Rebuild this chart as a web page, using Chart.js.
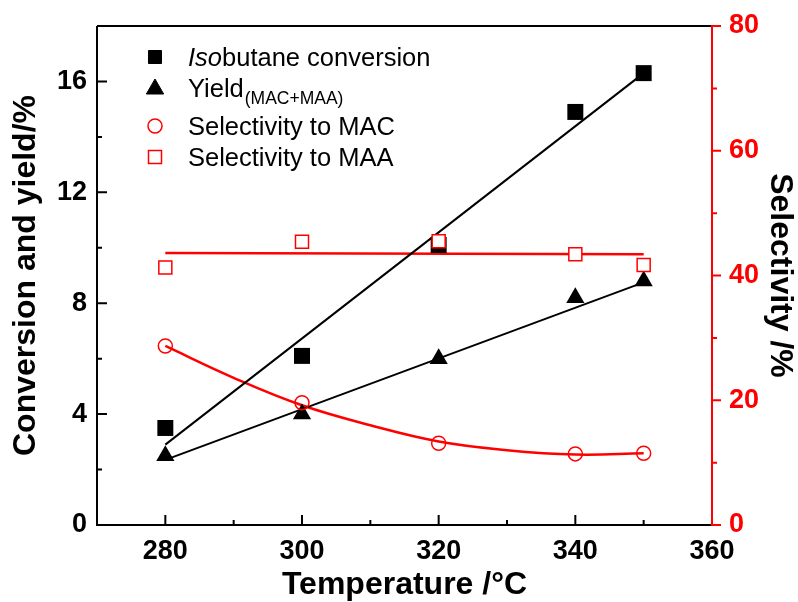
<!DOCTYPE html>
<html>
<head>
<meta charset="utf-8">
<script src="https://cdn.jsdelivr.net/npm/chart.js@4.4.1/dist/chart.umd.min.js"></script>
<style>
  html, body { margin: 0; padding: 0; background: #fff; }
  #wrap { width: 798px; height: 602px; position: relative; }
</style>
</head>
<body>
<div id="wrap"><canvas id="chart"></canvas></div>
<script>
// measured points
const temps = [280, 300, 320, 340, 350];
const conversion = [3.5, 6.1, 10.1, 14.9, 16.3];
const yieldMacMaa = [2.5, 4.0, 6.0, 8.2, 8.8];
const selMAC = [28.7, 19.6, 13.1, 11.4, 11.5];
const selMAA = [41.3, 45.4, 45.5, 43.4, 41.7];

// fitted lines
const fitTemps = [280, 350];
const convFit = [2.9, 16.3];
const yieldFit = [2.35, 8.75];
const maaFit = [43.6, 43.4];
const macFitTemps = [280, 290, 300, 310, 320, 330, 340, 350];
const macFit = [28.7, 23.6, 19.2, 16.0, 13.4, 12.0, 11.3, 11.5];

// axes
const xTicks = [280, 300, 320, 340, 360];
const xMinor = [290, 310, 330, 350];
const leftTicks = [0, 4, 8, 12, 16];
const leftMinor = [2, 6, 10, 14];
const rightTicks = [0, 20, 40, 60, 80];
const rightMinor = [10, 30, 50, 70];

const RED = '#ff0000';
const FONT = '"Liberation Sans", Arial, sans-serif';
Chart.defaults.font.family = FONT;

function pts(xs, ys) {
    return xs.map((x, i) => ({ x: x, y: ys[i] }));
}

// frame and inward/outward tick marks
const axesPlugin = {
    id: 'axesFrame',
    afterDraw(chart) {
        const ctx = chart.ctx;
        const a = chart.chartArea;
        const xs = chart.scales.x, yl = chart.scales.y, yr = chart.scales.y1;
        ctx.save();
        ctx.lineWidth = 2;
        ctx.strokeStyle = '#000';
        ctx.beginPath();
        ctx.moveTo(a.left, a.top); ctx.lineTo(a.right, a.top);
        ctx.moveTo(a.left, a.top); ctx.lineTo(a.left, a.bottom);
        ctx.moveTo(a.left - 1, a.bottom); ctx.lineTo(a.right, a.bottom);
        leftTicks.forEach(v => { const y = yl.getPixelForValue(v); ctx.moveTo(a.left, y); ctx.lineTo(a.left + 10, y); });
        leftMinor.forEach(v => { const y = yl.getPixelForValue(v); ctx.moveTo(a.left, y); ctx.lineTo(a.left + 5, y); });
        xTicks.forEach(v => { const x = xs.getPixelForValue(v); ctx.moveTo(x, a.bottom); ctx.lineTo(x, a.bottom - 10); });
        xMinor.forEach(v => { const x = xs.getPixelForValue(v); ctx.moveTo(x, a.bottom); ctx.lineTo(x, a.bottom - 5); });
        ctx.stroke();

        ctx.strokeStyle = RED;
        ctx.beginPath();
        ctx.moveTo(a.right, a.top - 1); ctx.lineTo(a.right, a.bottom + 1);
        rightTicks.forEach(v => { const y = yr.getPixelForValue(v); ctx.moveTo(a.right, y); ctx.lineTo(a.right + 9, y); });
        rightMinor.forEach(v => { const y = yr.getPixelForValue(v); ctx.moveTo(a.right, y); ctx.lineTo(a.right + 5, y); });
        ctx.stroke();
        ctx.restore();
    }
};

// legend with italic prefix and subscript
const legendPlugin = {
    id: 'customLegend',
    afterDraw(chart) {
        const ctx = chart.ctx;
        const mx = 155, tx = 188;
        const rows = [57, 88, 126, 157];
        const draw = Chart.helpers.drawPoint;
        ctx.save();

        ctx.fillStyle = '#000'; ctx.strokeStyle = '#000'; ctx.lineWidth = 1;
        draw(ctx, { pointStyle: 'rect', radius: 9.2, borderWidth: 1 }, mx, rows[0]);
        draw(ctx, { pointStyle: 'triangle', radius: 10, borderWidth: 1 }, mx, rows[1] + 1);
        ctx.fillStyle = 'rgba(0,0,0,0)'; ctx.strokeStyle = RED; ctx.lineWidth = 1.5;
        draw(ctx, { pointStyle: 'circle', radius: 7, borderWidth: 1.5 }, mx, rows[2]);
        ctx.fillStyle = '#fff';
        draw(ctx, { pointStyle: 'rect', radius: 9.2, borderWidth: 1.5 }, mx, rows[3]);

        ctx.fillStyle = '#000';
        ctx.textBaseline = 'alphabetic';
        ctx.textAlign = 'left';
        let x = tx;
        ctx.font = 'italic 25.5px ' + FONT;
        ctx.fillText('Iso', x, rows[0] + 9);
        x += ctx.measureText('Iso').width;
        ctx.font = '25.5px ' + FONT;
        ctx.fillText('butane conversion', x, rows[0] + 9);

        ctx.fillText('Yield', tx, rows[1] + 9);
        x = tx + ctx.measureText('Yield').width;
        ctx.font = '17.5px ' + FONT;
        ctx.fillText('(MAC+MAA)', x + 1, rows[1] + 16);

        ctx.font = '25.5px ' + FONT;
        ctx.fillText('Selectivity to MAC', tx, rows[2] + 9);
        ctx.fillText('Selectivity to MAA', tx, rows[3] + 9);
        ctx.restore();
    }
};

const tickFont = { size: 27, weight: 'bold' };
const titleFont = { size: 32, weight: 'bold', lineHeight: 1 };
const noGrid = { display: false, drawTicks: false };

// fixed box sizes so the plot area sits where the reference has it
function fixBox(w, h) {
    return s => {
        if (w !== null) s.width = w;
        if (h !== null) s.height = h;
        s.paddingTop = 0; s.paddingBottom = 0;
        s.paddingLeft = 0; s.paddingRight = 0;
    };
}

new Chart(document.getElementById('chart'), {
    type: 'scatter',
    data: {
        datasets: [
            {
                label: 'Selectivity to MAA', data: pts(temps, selMAA), yAxisID: 'y1', order: 0,
                pointStyle: 'rect', pointRadius: 9.2, pointBorderWidth: 1.5,
                borderColor: RED, backgroundColor: '#fff', showLine: false
            },
            {
                label: 'Selectivity to MAC', data: pts(temps, selMAC), yAxisID: 'y1', order: 1,
                pointStyle: 'circle', pointRadius: 7, pointBorderWidth: 1.5,
                borderColor: RED, backgroundColor: 'rgba(0,0,0,0)', showLine: false
            },
            {
                label: 'Isobutane conversion', data: pts(temps, conversion), yAxisID: 'y', order: 2,
                pointStyle: 'rect', pointRadius: 11.3, pointBorderWidth: 0,
                borderColor: '#000', backgroundColor: '#000', showLine: false
            },
            {
                label: 'Yield(MAC+MAA)', data: pts(temps, yieldMacMaa), yAxisID: 'y', order: 3,
                pointStyle: 'triangle', pointRadius: 10.5, pointBorderWidth: 0,
                borderColor: '#000', backgroundColor: '#000', showLine: false
            },
            {
                label: 'conv fit', data: pts(fitTemps, convFit), yAxisID: 'y', order: 4,
                showLine: true, pointRadius: 0, borderColor: '#000', borderWidth: 2
            },
            {
                label: 'yield fit', data: pts(fitTemps, yieldFit), yAxisID: 'y', order: 5,
                showLine: true, pointRadius: 0, borderColor: '#000', borderWidth: 2
            },
            {
                label: 'MAA fit', data: pts(fitTemps, maaFit), yAxisID: 'y1', order: 6,
                showLine: true, pointRadius: 0, borderColor: RED, borderWidth: 2.5
            },
            {
                label: 'MAC fit', data: pts(macFitTemps, macFit), yAxisID: 'y1', order: 7,
                showLine: true, pointRadius: 0, borderColor: RED, borderWidth: 2.5, tension: 0.4
            }
        ]
    },
    options: {
        responsive: true,
        maintainAspectRatio: false,
        animation: false,
        layout: { padding: { top: 26, left: 0, right: 0, bottom: 0 } },
        plugins: { legend: { display: false }, tooltip: { enabled: false } },
        scales: {
            x: {
                type: 'linear', min: 270, max: 360,
                afterBuildTicks: s => { s.ticks = xTicks.map(v => ({ value: v })); },
                afterFit: fixBox(null, 77),
                grid: noGrid, border: { display: false },
                ticks: { color: '#000', font: tickFont, padding: 10, maxRotation: 0 },
                title: { display: true, text: 'Temperature /°C', color: '#000', font: titleFont, padding: { top: 0, bottom: 1 } }
            },
            y: {
                type: 'linear', position: 'left', min: 0, max: 18,
                afterBuildTicks: s => { s.ticks = leftTicks.map(v => ({ value: v })); },
                afterFit: fixBox(97, null),
                grid: noGrid, border: { display: false },
                ticks: { color: '#000', font: tickFont, padding: 10 },
                title: { display: true, text: 'Conversion and yield/%', color: '#000', font: titleFont, padding: { top: 10, bottom: 0 } }
            },
            y1: {
                type: 'linear', position: 'right', min: 0, max: 80,
                afterBuildTicks: s => { s.ticks = rightTicks.map(v => ({ value: v })); },
                afterFit: fixBox(86, null),
                grid: noGrid, border: { display: false },
                ticks: { color: RED, font: tickFont, padding: 17 },
                title: { display: true, text: 'Selectivity /%', color: '#000', font: titleFont, padding: { top: 2, bottom: 0 } }
            }
        }
    },
    plugins: [axesPlugin, legendPlugin]
});
</script>
</body>
</html>
